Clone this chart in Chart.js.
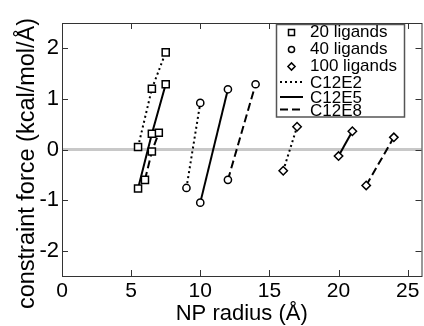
<!DOCTYPE html>
<html>
<head>
<meta charset="utf-8">
<script src="https://cdn.jsdelivr.net/npm/chart.js@4.4.0/dist/chart.umd.min.js"></script>
<style>
  html, body { margin: 0; padding: 0; background: #fff; overflow: hidden; }
  #plot { display: block; }
</style>
</head>
<body>
<canvas id="plot" width="428" height="326"></canvas>
<script>
// NP radius (Å) and constraint force (kcal/mol/Å)
const r20_E2 = [5.5, 6.5, 7.5];
const f20_E2 = [0.05, 1.2, 1.92];
const r20_E5 = [5.5, 6.5, 7.5];
const f20_E5 = [-0.77, 0.31, 1.29];
const r20_E8 = [6.0, 6.5, 7.0];
const f20_E8 = [-0.6, -0.04, 0.33];

const r40_E2 = [9, 10];
const f40_E2 = [-0.76, 0.92];
const r40_E5 = [10, 12];
const f40_E5 = [-1.05, 1.19];
const r40_E8 = [12, 14];
const f40_E8 = [-0.6, 1.29];

const r100_E2 = [16, 17];
const f100_E2 = [-0.42, 0.45];
const r100_E5 = [20, 21];
const f100_E5 = [-0.13, 0.36];
const r100_E8 = [22, 24];
const f100_E8 = [-0.71, 0.24];

const ligandLabels = ["20 ligands", "40 ligands", "100 ligands"];
const surfactantLabels = ["C12E2", "C12E5", "C12E8"];
const xTicks = [0, 5, 10, 15, 20, 25];
const yTicks = [-2, -1, 0, 1, 2];

const markerStyles = ["rect", "circle", "rectRot"];
const markerRadius = [5, 3.6, 4.2];
const dashStyles = [[2, 3], [], [8, 4]];

const FONT = "'Liberation Sans', Arial, Helvetica, sans-serif";

function pts(xs, ys) {
  return xs.map((x, i) => ({ x, y: ys[i] }));
}

const groups = [
  [[r20_E2, f20_E2], [r20_E5, f20_E5], [r20_E8, f20_E8]],
  [[r40_E2, f40_E2], [r40_E5, f40_E5], [r40_E8, f40_E8]],
  [[r100_E2, f100_E2], [r100_E5, f100_E5], [r100_E8, f100_E8]]
];

const datasets = [];
groups.forEach((g, li) => {
  g.forEach(([xs, ys], si) => {
    datasets.push({
      label: ligandLabels[li] + " " + surfactantLabels[si],
      data: pts(xs, ys),
      showLine: true,
      borderColor: "#000",
      borderWidth: 2,
      borderDash: dashStyles[si],
      pointStyle: markerStyles[li],
      pointRadius: markerRadius[li],
      pointBorderWidth: 1.5,
      pointBackgroundColor: "#fff",
      pointBorderColor: "#000"
    });
  });
});

const framePlugin = {
  id: "frame",
  beforeDatasetsDraw(chart) {
    const { ctx, chartArea: a, scales } = chart;
    const y0 = scales.y.getPixelForValue(0);
    ctx.save();
    ctx.strokeStyle = "#c8c8c8";
    ctx.lineWidth = 3;
    ctx.beginPath();
    ctx.moveTo(a.left, y0);
    ctx.lineTo(a.right, y0);
    ctx.stroke();
    ctx.restore();
  },
  afterDatasetsDraw(chart) {
    const { ctx, chartArea: a, scales } = chart;
    ctx.save();
    ctx.strokeStyle = "#333";
    ctx.lineWidth = 1;
    ctx.strokeRect(a.left + 0.5, a.top + 0.5, a.right - a.left, a.bottom - a.top);
    ctx.beginPath();
    xTicks.forEach(v => {
      const px = Math.round(scales.x.getPixelForValue(v)) + 0.5;
      ctx.moveTo(px, a.bottom); ctx.lineTo(px, a.bottom - 6);
      ctx.moveTo(px, a.top); ctx.lineTo(px, a.top + 6);
    });
    yTicks.forEach(v => {
      const py = Math.round(scales.y.getPixelForValue(v)) + 0.5;
      ctx.moveTo(a.left, py); ctx.lineTo(a.left + 6, py);
      ctx.moveTo(a.right, py); ctx.lineTo(a.right - 6, py);
    });
    ctx.stroke();

    // axis titles
    ctx.fillStyle = "#000";
    ctx.textAlign = "center";
    ctx.textBaseline = "alphabetic";
    ctx.font = "22px " + FONT;
    ctx.fillText("NP radius (Å)", (a.left + a.right) / 2, 320);
    ctx.font = "23.5px " + FONT;
    ctx.translate(34, 163.5);
    ctx.rotate(-Math.PI / 2);
    ctx.fillText("constraint force (kcal/mol/Å)", 0, 0);
    ctx.restore();
  },
  afterDraw(chart) {
    const ctx = chart.ctx;
    const bx = 276.5, by = 24.5, bw = 128, bh = 92.5;
    ctx.save();
    ctx.fillStyle = "#fff";
    ctx.fillRect(bx, by, bw, bh);
    ctx.strokeStyle = "#555";
    ctx.lineWidth = 1.5;
    ctx.strokeRect(bx, by, bw, bh);

    const labels = ligandLabels.concat(surfactantLabels);
    const baselines = [36.5, 53.5, 70.5, 88, 103, 115.5];
    ctx.font = "17px " + FONT;
    ctx.textAlign = "left";
    ctx.textBaseline = "alphabetic";
    labels.forEach((lab, i) => {
      const base = baselines[i];
      if (i < 3) {
        ctx.fillStyle = "#fff";
        ctx.strokeStyle = "#000";
        Chart.helpers.drawPoint(ctx, {
          pointStyle: markerStyles[i],
          radius: markerRadius[i] * 0.85,
          rotation: 0,
          borderWidth: 1.3
        }, 291.5, base - 4);
      } else {
        ctx.save();
        ctx.strokeStyle = "#000";
        ctx.lineWidth = 2;
        ctx.setLineDash(dashStyles[i - 3]);
        ctx.beginPath();
        ctx.moveTo(280, base - 6);
        ctx.lineTo(303, base - 6);
        ctx.stroke();
        ctx.restore();
      }
      ctx.fillStyle = "#000";
      ctx.fillText(lab, 310, base);
    });
    ctx.restore();
  }
};

new Chart(document.getElementById("plot").getContext("2d"), {
  type: "scatter",
  data: { datasets },
  plugins: [framePlugin],
  options: {
    responsive: false,
    animation: false,
    layout: { padding: { top: 23, right: 3, bottom: 0, left: 0 } },
    plugins: { legend: { display: false }, tooltip: { enabled: false } },
    scales: {
      x: {
        type: "linear",
        min: 0,
        max: 26,
        afterBuildTicks: s => { s.ticks = xTicks.map(v => ({ value: v })); },
        afterFit: s => { s.height = 50; },
        grid: { display: false, drawTicks: false },
        border: { display: false },
        ticks: { color: "#000", font: { size: 21, family: FONT }, padding: 3, maxRotation: 0 }
      },
      y: {
        type: "linear",
        min: -2.5,
        max: 2.5,
        afterBuildTicks: s => { s.ticks = yTicks.map(v => ({ value: v })); },
        afterFit: s => { s.width = 62; },
        grid: { display: false, drawTicks: false },
        border: { display: false },
        ticks: { color: "#000", font: { size: 22, family: FONT }, padding: 3 }
      }
    }
  }
});
</script>
</body>
</html>
